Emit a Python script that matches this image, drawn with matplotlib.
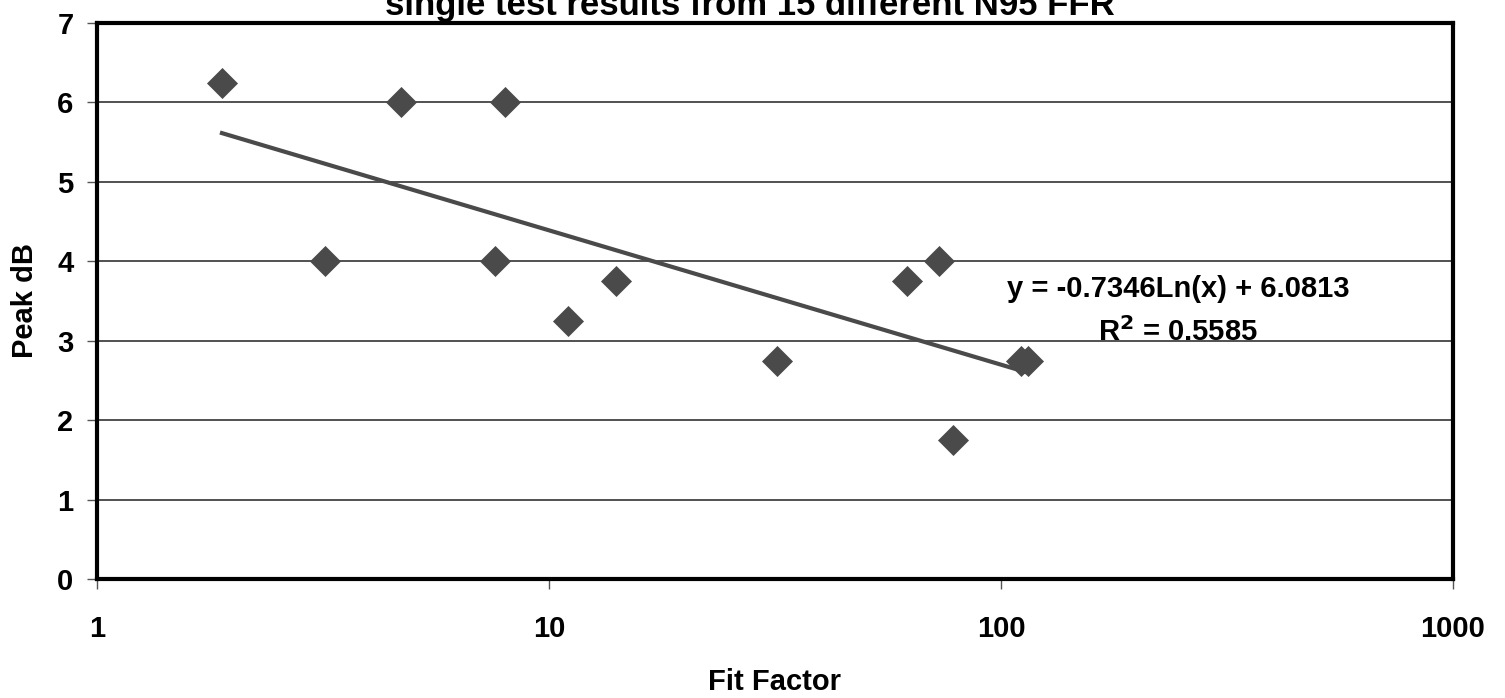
import numpy as np
import matplotlib.pyplot as plt

# fit factor vs peak dB
fit_factor = [1.89, 3.2, 4.71, 7.6, 8.0, 11.0, 14.1, 32.0, 61.8, 72.8, 78.5, 111.0, 115.0]
peak_db = [6.25, 4.0, 6.0, 4.0, 6.0, 3.25, 3.75, 2.75, 3.75, 4.0, 1.75, 2.75, 2.75]

# logarithmic trend coefficients from the equation label
slope = -0.7346
intercept = 6.0813
r_squared = 0.5585

plt.rcParams['font.family'] = ['Liberation Sans', 'DejaVu Sans']
plt.rcParams['font.weight'] = 'bold'

fig = plt.figure(figsize=(15.05, 6.98), dpi=100)
ax = fig.add_axes([97 / 1505, 1 - 579 / 698, (1453 - 97) / 1505, (579 - 23) / 698])

grey = '#4a4a4a'
ax.scatter(fit_factor, peak_db, marker='D', s=250, color=grey, zorder=3, linewidths=0)

xs = np.linspace(min(fit_factor), max(fit_factor), 200)
ax.plot(xs, slope * np.log(xs) + intercept, color=grey, lw=3, zorder=2)

ax.set_xscale('log')
ax.set_xlim(1, 1000)
ax.set_ylim(0, 7)
ax.set_yticks(range(0, 8))
ax.set_xticks([1, 10, 100, 1000])
ax.set_xticklabels(['1', '10', '100', '1000'])
ax.xaxis.set_minor_locator(plt.NullLocator())
ax.yaxis.grid(True, color='#333333', lw=1.2)
ax.set_axisbelow(True)

for s in ax.spines.values():
    s.set_linewidth(3)
    s.set_color('black')

ax.tick_params(axis='x', length=7, width=1, color='#555555', pad=19, labelsize=21)
ax.tick_params(axis='y', length=7, width=1, color='#555555', pad=10, labelsize=21)

ax.set_xlabel('Fit Factor', fontsize=21, fontweight='bold', labelpad=18)
ax.set_ylabel('Peak dB', fontsize=21, fontweight='bold', labelpad=13)

ax.text(1178 / 1505, 1 - 311 / 698, f'y = {slope}Ln(x) + {intercept}\nR$^2$ = {r_squared}',
        transform=fig.transFigure, ha='center', va='center', fontsize=21,
        fontweight='bold', linespacing=1.6)

fig.text(750 / 1505, 1 - 15 / 698, 'single test results from 15 different N95 FFR',
         ha='center', va='baseline', fontsize=25, fontweight='bold')

fig.savefig('out.png', dpi=100)
